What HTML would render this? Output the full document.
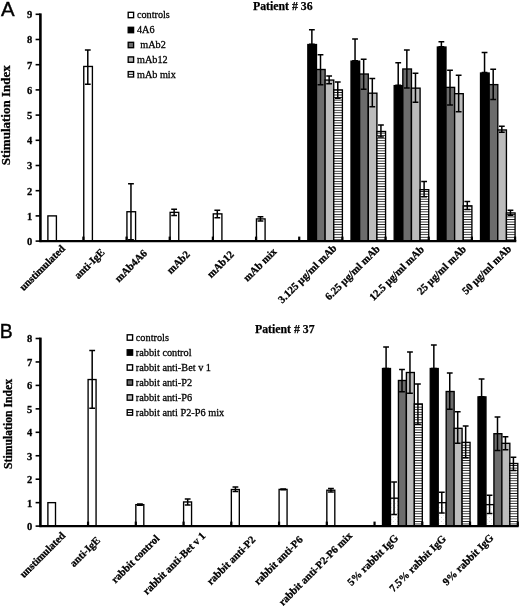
<!DOCTYPE html>
<html><head><meta charset="utf-8"><title>Figure</title>
<style>
html,body{margin:0;padding:0;background:#fff}
svg{display:block}
text{font-family:"Liberation Serif","Times New Roman",serif;fill:#000}
.tk{font-size:10.5px;font-weight:bold;stroke:#000;stroke-width:.3px}
.xl{font-weight:bold;stroke:#000;stroke-width:.3px}
.lg{font-size:10.2px;stroke:#000;stroke-width:.28px}
.ti{font-size:11.8px;font-weight:bold;stroke:#000;stroke-width:.25px}
.yl{font-size:13px;font-weight:bold;stroke:#000;stroke-width:.3px}
.pn{font-family:"Liberation Sans",Arial,sans-serif;font-size:20.4px;stroke:#000;stroke-width:.4px}
</style></head><body>
<svg width="520" height="606" viewBox="0 0 520 606">
<defs>
<pattern id="hz" x="0" y="0.6" width="10" height="2.54" patternUnits="userSpaceOnUse"><rect width="10" height="2.54" fill="#fff"/><rect y="0" width="10" height="0.85" fill="#1a1a1a"/></pattern>
<pattern id="hz2" x="0" y="0.3" width="10" height="2.54" patternUnits="userSpaceOnUse"><rect width="10" height="2.54" fill="#fff"/><rect y="0" width="10" height="0.85" fill="#1a1a1a"/></pattern>
<pattern id="dt" x="0" y="0" width="4" height="4" patternUnits="userSpaceOnUse"><rect width="4" height="4" fill="#fff"/><rect x="1" y="1" width="0.7" height="0.7" fill="#aaa"/><rect x="3" y="3" width="0.6" height="0.6" fill="#bbb"/></pattern>
</defs>
<filter id="bl" x="0" y="0" width="520" height="606" filterUnits="userSpaceOnUse"><feGaussianBlur stdDeviation="0.33"/></filter>
<rect width="520" height="606" fill="#fff"/>
<g filter="url(#bl)">

<rect x="47.90" y="215.90" width="8.50" height="25.20" fill="#fff" stroke="#000" stroke-width="1.35"/>
<rect x="83.77" y="66.46" width="8.63" height="174.64" fill="#fff" stroke="#000" stroke-width="1.35"/>
<path d="M87.79 49.98V84.21M84.89 49.98H90.69M84.89 84.21H90.69" stroke="#000" stroke-width="1.5" fill="none"/>
<rect x="126.94" y="211.74" width="8.63" height="29.36" fill="#fff" stroke="#000" stroke-width="1.35"/>
<path d="M130.96 183.67V239.82M128.06 183.67H133.86M128.06 239.82H133.86" stroke="#000" stroke-width="1.5" fill="none"/>
<rect x="170.11" y="212.37" width="8.63" height="28.73" fill="#fff" stroke="#000" stroke-width="1.35"/>
<path d="M174.13 209.24V215.50M171.23 209.24H177.03M171.23 215.50H177.03" stroke="#000" stroke-width="1.5" fill="none"/>
<rect x="213.28" y="213.88" width="8.63" height="27.22" fill="#fff" stroke="#000" stroke-width="1.35"/>
<path d="M217.30 210.13V217.64M214.40 210.13H220.20M214.40 217.64H220.20" stroke="#000" stroke-width="1.5" fill="none"/>
<rect x="256.45" y="218.92" width="8.63" height="22.18" fill="#fff" stroke="#000" stroke-width="1.35"/>
<path d="M260.47 216.80V221.04M257.57 216.80H263.37M257.57 221.04H263.37" stroke="#000" stroke-width="1.5" fill="none"/>
<rect x="307.85" y="44.54" width="8.63" height="196.56" fill="#000" stroke="#000" stroke-width="1.35"/>
<rect x="316.49" y="69.49" width="8.63" height="171.61" fill="#6c6c6c" stroke="#000" stroke-width="1.35"/>
<rect x="325.12" y="80.07" width="8.63" height="161.03" fill="#bcbcbc" stroke="#000" stroke-width="1.35"/>
<rect x="333.76" y="89.90" width="8.63" height="151.20" fill="url(#hz)" stroke="#000" stroke-width="1.35"/>
<path d="M311.87 29.82V44.14M308.97 29.82H314.77M308.97 44.14H314.77" stroke="#000" stroke-width="1.5" fill="none"/>
<path d="M320.50 54.77V84.71M317.60 54.77H323.40M317.60 84.71H323.40" stroke="#000" stroke-width="1.5" fill="none"/>
<path d="M329.14 75.94V83.70M326.24 75.94H332.04M326.24 83.70H332.04" stroke="#000" stroke-width="1.5" fill="none"/>
<path d="M337.77 81.98V98.32M334.87 81.98H340.67M334.87 98.32H340.67" stroke="#000" stroke-width="1.5" fill="none"/>
<rect x="351.02" y="61.17" width="8.63" height="179.93" fill="#000" stroke="#000" stroke-width="1.35"/>
<rect x="359.66" y="74.02" width="8.63" height="167.08" fill="#6c6c6c" stroke="#000" stroke-width="1.35"/>
<rect x="368.29" y="93.18" width="8.63" height="147.92" fill="#bcbcbc" stroke="#000" stroke-width="1.35"/>
<rect x="376.93" y="131.48" width="8.63" height="109.62" fill="url(#hz)" stroke="#000" stroke-width="1.35"/>
<path d="M355.04 38.89V60.77M352.14 38.89H357.94M352.14 60.77H357.94" stroke="#000" stroke-width="1.5" fill="none"/>
<path d="M363.67 59.30V89.25M360.77 59.30H366.57M360.77 89.25H366.57" stroke="#000" stroke-width="1.5" fill="none"/>
<path d="M372.31 78.46V106.64M369.41 78.46H375.21M369.41 106.64H375.21" stroke="#000" stroke-width="1.5" fill="none"/>
<path d="M380.94 125.08V136.88M378.04 125.08H383.84M378.04 136.88H383.84" stroke="#000" stroke-width="1.5" fill="none"/>
<rect x="394.19" y="85.62" width="8.63" height="155.48" fill="#000" stroke="#000" stroke-width="1.35"/>
<rect x="402.83" y="68.98" width="8.63" height="172.12" fill="#6c6c6c" stroke="#000" stroke-width="1.35"/>
<rect x="411.46" y="88.14" width="8.63" height="152.96" fill="#bcbcbc" stroke="#000" stroke-width="1.35"/>
<rect x="420.10" y="189.69" width="8.63" height="51.41" fill="url(#hz)" stroke="#000" stroke-width="1.35"/>
<path d="M398.21 62.83V85.22M395.31 62.83H401.11M395.31 85.22H401.11" stroke="#000" stroke-width="1.5" fill="none"/>
<path d="M406.84 49.98V87.99M403.94 49.98H409.74M403.94 87.99H409.74" stroke="#000" stroke-width="1.5" fill="none"/>
<path d="M415.48 73.16V102.35M412.58 73.16H418.38M412.58 102.35H418.38" stroke="#000" stroke-width="1.5" fill="none"/>
<path d="M424.11 181.52V196.85M421.21 181.52H427.01M421.21 196.85H427.01" stroke="#000" stroke-width="1.5" fill="none"/>
<rect x="437.36" y="47.06" width="8.63" height="194.04" fill="#000" stroke="#000" stroke-width="1.35"/>
<rect x="446.00" y="87.38" width="8.63" height="153.72" fill="#6c6c6c" stroke="#000" stroke-width="1.35"/>
<rect x="454.63" y="93.68" width="8.63" height="147.42" fill="#bcbcbc" stroke="#000" stroke-width="1.35"/>
<rect x="463.27" y="205.82" width="8.63" height="35.28" fill="url(#hz)" stroke="#000" stroke-width="1.35"/>
<path d="M441.38 41.66V46.66M438.48 41.66H444.28M438.48 46.66H444.28" stroke="#000" stroke-width="1.5" fill="none"/>
<path d="M450.01 70.14V105.12M447.12 70.14H452.91M447.12 105.12H452.91" stroke="#000" stroke-width="1.5" fill="none"/>
<path d="M458.65 75.18V111.68M455.75 75.18H461.55M455.75 111.68H461.55" stroke="#000" stroke-width="1.5" fill="none"/>
<path d="M467.28 201.56V209.58M464.38 201.56H470.18M464.38 209.58H470.18" stroke="#000" stroke-width="1.5" fill="none"/>
<rect x="480.53" y="73.02" width="8.63" height="168.08" fill="#000" stroke="#000" stroke-width="1.35"/>
<rect x="489.17" y="84.61" width="8.63" height="156.49" fill="#6c6c6c" stroke="#000" stroke-width="1.35"/>
<rect x="497.80" y="129.97" width="8.63" height="111.13" fill="#bcbcbc" stroke="#000" stroke-width="1.35"/>
<rect x="506.44" y="212.95" width="8.63" height="28.15" fill="url(#hz)" stroke="#000" stroke-width="1.35"/>
<path d="M484.55 52.50V72.62M481.65 52.50H487.45M481.65 72.62H487.45" stroke="#000" stroke-width="1.5" fill="none"/>
<path d="M493.19 69.13V99.58M490.29 69.13H496.08M490.29 99.58H496.08" stroke="#000" stroke-width="1.5" fill="none"/>
<path d="M501.82 126.34V132.34M498.92 126.34H504.72M498.92 132.34H504.72" stroke="#000" stroke-width="1.5" fill="none"/>
<path d="M510.45 210.33V215.32M507.55 210.33H513.35M507.55 215.32H513.35" stroke="#000" stroke-width="1.5" fill="none"/>
<path d="M40.4 13.40V242.10" stroke="#000" stroke-width="2.6"/>
<path d="M39.4 241.10H516.3" stroke="#000" stroke-width="2.4"/>
<path d="M35.6 241.10H40.4" stroke="#000" stroke-width="1.6"/>
<text x="32.2" y="245.00" text-anchor="end" class="tk">0</text>
<path d="M35.6 215.90H40.4" stroke="#000" stroke-width="1.6"/>
<text x="32.2" y="219.80" text-anchor="end" class="tk">1</text>
<path d="M35.6 190.70H40.4" stroke="#000" stroke-width="1.6"/>
<text x="32.2" y="194.60" text-anchor="end" class="tk">2</text>
<path d="M35.6 165.50H40.4" stroke="#000" stroke-width="1.6"/>
<text x="32.2" y="169.40" text-anchor="end" class="tk">3</text>
<path d="M35.6 140.30H40.4" stroke="#000" stroke-width="1.6"/>
<text x="32.2" y="144.20" text-anchor="end" class="tk">4</text>
<path d="M35.6 115.10H40.4" stroke="#000" stroke-width="1.6"/>
<text x="32.2" y="119.00" text-anchor="end" class="tk">5</text>
<path d="M35.6 89.90H40.4" stroke="#000" stroke-width="1.6"/>
<text x="32.2" y="93.80" text-anchor="end" class="tk">6</text>
<path d="M35.6 64.70H40.4" stroke="#000" stroke-width="1.6"/>
<text x="32.2" y="68.60" text-anchor="end" class="tk">7</text>
<path d="M35.6 39.50H40.4" stroke="#000" stroke-width="1.6"/>
<text x="32.2" y="43.40" text-anchor="end" class="tk">8</text>
<path d="M35.6 14.30H40.4" stroke="#000" stroke-width="1.6"/>
<text x="32.2" y="18.20" text-anchor="end" class="tk">9</text>
<path d="M83.37 236.60V241.10" stroke="#000" stroke-width="2.2"/>
<path d="M126.54 236.60V241.10" stroke="#000" stroke-width="2.2"/>
<path d="M169.71 236.60V241.10" stroke="#000" stroke-width="2.2"/>
<path d="M212.88 236.60V241.10" stroke="#000" stroke-width="2.2"/>
<path d="M256.05 236.60V241.10" stroke="#000" stroke-width="2.2"/>
<path d="M299.22 236.60V241.10" stroke="#000" stroke-width="2.2"/>
<path d="M342.39 236.60V241.10" stroke="#000" stroke-width="2.2"/>
<path d="M385.56 236.60V241.10" stroke="#000" stroke-width="2.2"/>
<path d="M428.73 236.60V241.10" stroke="#000" stroke-width="2.2"/>
<path d="M471.90 236.60V241.10" stroke="#000" stroke-width="2.2"/>
<path d="M515.07 236.60V241.10" stroke="#000" stroke-width="2.2"/>
<text x="0.9" y="15.5" class="pn">A</text>
<text x="253" y="9.6" class="ti">Patient # 36</text>
<text transform="translate(10.1 165.3) rotate(-90)" class="yl">Stimulation Index</text>
<rect x="128.20" y="12.30" width="5.4" height="5.4" fill="#fff" stroke="#000" stroke-width="1.35"/>
<text x="137.00" y="18.30" class="lg" style="font-size:10.2px">controls</text>
<rect x="128.20" y="27.30" width="5.4" height="5.4" fill="#000" stroke="#000" stroke-width="1.35"/>
<text x="137.00" y="33.30" class="lg" style="font-size:10.2px">4A6</text>
<rect x="128.20" y="42.30" width="5.4" height="5.4" fill="#6c6c6c" stroke="#000" stroke-width="1.35"/>
<text x="140.30" y="48.30" class="lg" style="font-size:10.2px">mAb2</text>
<rect x="128.20" y="56.90" width="5.4" height="5.4" fill="#bcbcbc" stroke="#000" stroke-width="1.35"/>
<text x="137.00" y="62.90" class="lg" style="font-size:10.2px">mAb12</text>
<rect x="128.20" y="71.60" width="5.4" height="5.4" fill="#fff" stroke="#000" stroke-width="1.35"/>
<path d="M128.20 74.30h5.4" stroke="#000" stroke-width="1"/>
<text x="137.00" y="77.60" class="lg" style="font-size:10.2px">mAb mix</text>
<text transform="translate(65.70 249.20) rotate(-45)" text-anchor="end" class="xl" style="font-size:10.6px">unstimulated</text>
<text transform="translate(105.25 252.95) rotate(-45)" text-anchor="end" class="xl" style="font-size:10.6px">anti-IgE</text>
<text transform="translate(147.65 253.95) rotate(-45)" text-anchor="end" class="xl" style="font-size:10.6px">mAb4A6</text>
<text transform="translate(190.50 255.00) rotate(-45)" text-anchor="end" class="xl" style="font-size:10.6px">mAb2</text>
<text transform="translate(234.50 255.12) rotate(-45)" text-anchor="end" class="xl" style="font-size:10.6px">mAb12</text>
<text transform="translate(277.25 252.12) rotate(-45)" text-anchor="end" class="xl" style="font-size:10.6px">mAb mix</text>
<text transform="translate(337.25 248.75) rotate(-45)" text-anchor="end" class="xl" style="font-size:10.6px">3.125 µg/ml mAb</text>
<text transform="translate(380.50 249.50) rotate(-45)" text-anchor="end" class="xl" style="font-size:10.6px">6.25 µg/ml mAb</text>
<text transform="translate(424.62 250.12) rotate(-45)" text-anchor="end" class="xl" style="font-size:10.6px">12.5 µg/ml mAb</text>
<text transform="translate(466.75 249.75) rotate(-45)" text-anchor="end" class="xl" style="font-size:10.6px">25 µg/ml mAb</text>
<text transform="translate(511.88 249.50) rotate(-45)" text-anchor="end" class="xl" style="font-size:10.6px">50 µg/ml mAb</text>
<rect x="47.90" y="502.65" width="7.60" height="23.45" fill="#fff" stroke="#000" stroke-width="1.35"/>
<rect x="88.10" y="379.54" width="7.96" height="146.56" fill="#fff" stroke="#000" stroke-width="1.35"/>
<path d="M92.18 350.56V408.28M89.28 350.56H95.08M89.28 408.28H95.08" stroke="#000" stroke-width="1.5" fill="none"/>
<rect x="135.85" y="504.64" width="7.96" height="21.46" fill="#fff" stroke="#000" stroke-width="1.35"/>
<path d="M139.93 504.04V505.25M137.03 504.04H142.83M137.03 505.25H142.83" stroke="#000" stroke-width="1.5" fill="none"/>
<rect x="183.60" y="501.95" width="7.96" height="24.15" fill="#fff" stroke="#000" stroke-width="1.35"/>
<path d="M187.68 499.00V504.89M184.78 499.00H190.58M184.78 504.89H190.58" stroke="#000" stroke-width="1.5" fill="none"/>
<rect x="231.35" y="489.52" width="7.96" height="36.58" fill="#fff" stroke="#000" stroke-width="1.35"/>
<path d="M235.43 487.04V491.53M232.53 487.04H238.33M232.53 491.53H238.33" stroke="#000" stroke-width="1.5" fill="none"/>
<rect x="279.10" y="489.40" width="7.96" height="36.70" fill="#fff" stroke="#000" stroke-width="1.35"/>
<path d="M283.18 489.03V489.77M280.28 489.03H286.08M280.28 489.77H286.08" stroke="#000" stroke-width="1.5" fill="none"/>
<rect x="326.85" y="490.22" width="7.96" height="35.88" fill="#fff" stroke="#000" stroke-width="1.35"/>
<path d="M330.93 488.45V492.00M328.03 488.45H333.83M328.03 492.00H333.83" stroke="#000" stroke-width="1.5" fill="none"/>
<rect x="382.51" y="368.52" width="7.96" height="157.58" fill="#000" stroke="#000" stroke-width="1.35"/>
<rect x="390.47" y="498.19" width="7.96" height="27.91" fill="url(#dt)" stroke="#000" stroke-width="1.35"/>
<rect x="398.43" y="380.48" width="7.96" height="145.62" fill="#6c6c6c" stroke="#000" stroke-width="1.35"/>
<rect x="406.38" y="372.50" width="7.96" height="153.60" fill="#bcbcbc" stroke="#000" stroke-width="1.35"/>
<rect x="414.34" y="403.93" width="7.96" height="122.17" fill="url(#hz2)" stroke="#000" stroke-width="1.35"/>
<path d="M386.09 347.04V368.42M383.19 347.04H388.99M383.19 368.42H388.99" stroke="#000" stroke-width="1.5" fill="none"/>
<path d="M394.05 481.88V514.51M391.15 481.88H396.95M391.15 514.51H396.95" stroke="#000" stroke-width="1.5" fill="none"/>
<path d="M402.00 369.55V391.87M399.10 369.55H404.90M399.10 391.87H404.90" stroke="#000" stroke-width="1.5" fill="none"/>
<path d="M409.96 351.97V393.27M407.06 351.97H412.86M407.06 393.27H412.86" stroke="#000" stroke-width="1.5" fill="none"/>
<path d="M417.92 384.09V424.23M415.02 384.09H420.82M415.02 424.23H420.82" stroke="#000" stroke-width="1.5" fill="none"/>
<rect x="430.26" y="368.52" width="7.96" height="157.58" fill="#000" stroke="#000" stroke-width="1.35"/>
<rect x="438.22" y="502.65" width="7.96" height="23.45" fill="url(#dt)" stroke="#000" stroke-width="1.35"/>
<rect x="446.18" y="391.50" width="7.96" height="134.60" fill="#6c6c6c" stroke="#000" stroke-width="1.35"/>
<rect x="454.13" y="428.31" width="7.96" height="97.79" fill="#bcbcbc" stroke="#000" stroke-width="1.35"/>
<rect x="462.09" y="442.38" width="7.96" height="83.72" fill="url(#hz2)" stroke="#000" stroke-width="1.35"/>
<path d="M433.84 344.93V368.42M430.94 344.93H436.74M430.94 368.42H436.74" stroke="#000" stroke-width="1.5" fill="none"/>
<path d="M441.80 492.20V513.10M438.90 492.20H444.70M438.90 513.10H444.70" stroke="#000" stroke-width="1.5" fill="none"/>
<path d="M449.75 373.07V409.22M446.85 373.07H452.65M446.85 409.22H452.65" stroke="#000" stroke-width="1.5" fill="none"/>
<path d="M457.71 411.76V443.22M454.81 411.76H460.61M454.81 443.22H460.61" stroke="#000" stroke-width="1.5" fill="none"/>
<path d="M465.67 426.07V457.76M462.77 426.07H468.57M462.77 457.76H468.57" stroke="#000" stroke-width="1.5" fill="none"/>
<rect x="478.01" y="396.89" width="7.96" height="129.21" fill="#000" stroke="#000" stroke-width="1.35"/>
<rect x="485.97" y="504.64" width="7.96" height="21.46" fill="url(#dt)" stroke="#000" stroke-width="1.35"/>
<rect x="493.93" y="433.71" width="7.96" height="92.39" fill="#6c6c6c" stroke="#000" stroke-width="1.35"/>
<rect x="501.88" y="443.32" width="7.96" height="82.78" fill="#bcbcbc" stroke="#000" stroke-width="1.35"/>
<rect x="509.84" y="463.49" width="7.96" height="62.61" fill="url(#hz2)" stroke="#000" stroke-width="1.35"/>
<path d="M481.59 378.93V396.79M478.69 378.93H484.49M478.69 396.79H484.49" stroke="#000" stroke-width="1.5" fill="none"/>
<path d="M489.55 495.36V513.57M486.65 495.36H492.45M486.65 513.57H492.45" stroke="#000" stroke-width="1.5" fill="none"/>
<path d="M497.50 416.92V450.49M494.60 416.92H500.40M494.60 450.49H500.40" stroke="#000" stroke-width="1.5" fill="none"/>
<path d="M505.46 436.86V449.79M502.56 436.86H508.36M502.56 449.79H508.36" stroke="#000" stroke-width="1.5" fill="none"/>
<path d="M513.42 457.26V470.42M510.52 457.26H516.32M510.52 470.42H516.32" stroke="#000" stroke-width="1.5" fill="none"/>
<path d="M40.4 337.60V527.10" stroke="#000" stroke-width="2.6"/>
<path d="M39.4 526.10H518.6" stroke="#000" stroke-width="2.4"/>
<path d="M35.6 526.10H40.4" stroke="#000" stroke-width="1.6"/>
<text x="32.2" y="530.00" text-anchor="end" class="tk">0</text>
<path d="M35.6 502.65H40.4" stroke="#000" stroke-width="1.6"/>
<text x="32.2" y="506.55" text-anchor="end" class="tk">1</text>
<path d="M35.6 479.20H40.4" stroke="#000" stroke-width="1.6"/>
<text x="32.2" y="483.10" text-anchor="end" class="tk">2</text>
<path d="M35.6 455.75H40.4" stroke="#000" stroke-width="1.6"/>
<text x="32.2" y="459.65" text-anchor="end" class="tk">3</text>
<path d="M35.6 432.30H40.4" stroke="#000" stroke-width="1.6"/>
<text x="32.2" y="436.20" text-anchor="end" class="tk">4</text>
<path d="M35.6 408.85H40.4" stroke="#000" stroke-width="1.6"/>
<text x="32.2" y="412.75" text-anchor="end" class="tk">5</text>
<path d="M35.6 385.40H40.4" stroke="#000" stroke-width="1.6"/>
<text x="32.2" y="389.30" text-anchor="end" class="tk">6</text>
<path d="M35.6 361.95H40.4" stroke="#000" stroke-width="1.6"/>
<text x="32.2" y="365.85" text-anchor="end" class="tk">7</text>
<path d="M35.6 338.50H40.4" stroke="#000" stroke-width="1.6"/>
<text x="32.2" y="342.40" text-anchor="end" class="tk">8</text>
<path d="M88.05 521.60V526.10" stroke="#000" stroke-width="2.2"/>
<path d="M135.80 521.60V526.10" stroke="#000" stroke-width="2.2"/>
<path d="M183.55 521.60V526.10" stroke="#000" stroke-width="2.2"/>
<path d="M231.30 521.60V526.10" stroke="#000" stroke-width="2.2"/>
<path d="M279.05 521.60V526.10" stroke="#000" stroke-width="2.2"/>
<path d="M326.80 521.60V526.10" stroke="#000" stroke-width="2.2"/>
<path d="M374.55 521.60V526.10" stroke="#000" stroke-width="2.2"/>
<path d="M422.30 521.60V526.10" stroke="#000" stroke-width="2.2"/>
<path d="M470.05 521.60V526.10" stroke="#000" stroke-width="2.2"/>
<path d="M517.80 521.60V526.10" stroke="#000" stroke-width="2.2"/>
<text transform="translate(-0.3 338.0) scale(0.95 1)" class="pn">B</text>
<text x="255" y="332.5" class="ti">Patient # 37</text>
<text transform="translate(12.3 468.9) rotate(-90)" class="yl" style="font-size:11.7px">Stimulation Index</text>
<rect x="127.20" y="334.80" width="5.4" height="5.4" fill="#fff" stroke="#000" stroke-width="1.35"/>
<text x="135.80" y="340.80" class="lg" style="font-size:10.3px">controls</text>
<rect x="127.20" y="349.80" width="5.4" height="5.4" fill="#000" stroke="#000" stroke-width="1.35"/>
<text x="135.80" y="355.80" class="lg" style="font-size:10.3px">rabbit control</text>
<rect x="127.20" y="364.80" width="5.4" height="5.4" fill="url(#dt)" stroke="#000" stroke-width="1.35"/>
<text x="135.80" y="370.80" class="lg" style="font-size:10.3px">rabbit anti-Bet v 1</text>
<rect x="127.20" y="379.80" width="5.4" height="5.4" fill="#6c6c6c" stroke="#000" stroke-width="1.35"/>
<text x="135.80" y="385.80" class="lg" style="font-size:10.3px">rabbit anti-P2</text>
<rect x="127.20" y="394.80" width="5.4" height="5.4" fill="#bcbcbc" stroke="#000" stroke-width="1.35"/>
<text x="135.80" y="400.80" class="lg" style="font-size:10.3px">rabbit anti-P6</text>
<rect x="127.20" y="409.80" width="5.4" height="5.4" fill="#fff" stroke="#000" stroke-width="1.35"/>
<path d="M127.20 412.50h5.4" stroke="#000" stroke-width="1"/>
<text x="135.80" y="415.80" class="lg" style="font-size:10.3px">rabbit anti P2-P6 mix</text>
<text transform="translate(66.00 536.25) rotate(-45)" text-anchor="end" class="xl" style="font-size:10.6px">unstimulated</text>
<text transform="translate(100.75 540.88) rotate(-45)" text-anchor="end" class="xl" style="font-size:10.6px">anti-IgE</text>
<text transform="translate(160.00 539.12) rotate(-45)" text-anchor="end" class="xl" style="font-size:10.6px">rabbit control</text>
<text transform="translate(206.00 536.38) rotate(-45)" text-anchor="end" class="xl" style="font-size:10.6px">rabbit anti-Bet v 1</text>
<text transform="translate(256.05 540.35) rotate(-45)" text-anchor="end" class="xl" style="font-size:10.6px">rabbit anti-P2</text>
<text transform="translate(303.40 540.35) rotate(-45)" text-anchor="end" class="xl" style="font-size:10.6px">rabbit anti-P6</text>
<text transform="translate(352.80 536.35) rotate(-45)" text-anchor="end" class="xl" style="font-size:10.6px">rabbit anti-P2-P6 mix</text>
<text transform="translate(398.90 538.75) rotate(-45)" text-anchor="end" class="xl" style="font-size:10.6px">5% rabbit IgG</text>
<text transform="translate(446.55 539.35) rotate(-45)" text-anchor="end" class="xl" style="font-size:10.6px">7.5% rabbit IgG</text>
<text transform="translate(494.20 538.45) rotate(-45)" text-anchor="end" class="xl" style="font-size:10.6px">9% rabbit IgG</text>
</g></svg></body></html>
